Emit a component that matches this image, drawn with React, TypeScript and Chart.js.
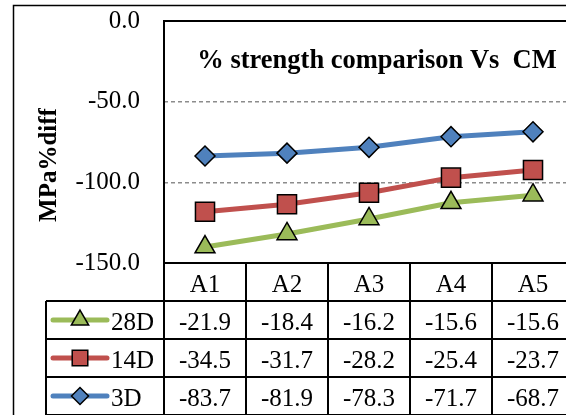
import React, { useEffect, useRef } from "react";
import { Chart, registerables } from "chart.js";

Chart.register(...registerables);

const categories = ["A1", "A2", "A3", "A4", "A5"];
const seriesNames = ["3D", "14D", "28D"];
const values3D = [-83.7, -81.9, -78.3, -71.7, -68.7];
const values14D = [-34.5, -31.7, -28.2, -25.4, -23.7];
const values28D = [-21.9, -18.4, -16.2, -15.6, -15.6];
const seriesColors = ["#4F81BD", "#C0504D", "#9BBB59"];
const seriesMarkers = ["rectRot", "rect", "triangle"];
const markerRadius = [10, 13.5, 11.5];
const yMin = -150;
const yMax = 0;
const yStep = 50;
const chartTitle = "% strength comparison Vs  CM";
const yAxisTitle = "MPa%diff";

const FONT = '"Liberation Serif", "Times New Roman", serif';

function drawMarker(ctx: CanvasRenderingContext2D, style: string, x: number, y: number, r: number, color: string) {
  ctx.save();
  ctx.fillStyle = color;
  ctx.strokeStyle = "#000";
  ctx.lineWidth = 1.5;
  ctx.beginPath();
  if (style === "rect") {
    const s = Math.SQRT1_2 * r;
    ctx.rect(x - s, y - s, 2 * s, 2 * s);
  } else if (style === "rectRot") {
    ctx.moveTo(x - r, y);
    ctx.lineTo(x, y - r);
    ctx.lineTo(x + r, y);
    ctx.lineTo(x, y + r);
    ctx.closePath();
  } else {
    let rad = 0;
    ctx.moveTo(x + Math.sin(rad) * r, y - Math.cos(rad) * r);
    rad += (2 * Math.PI) / 3;
    ctx.lineTo(x + Math.sin(rad) * r, y - Math.cos(rad) * r);
    rad += (2 * Math.PI) / 3;
    ctx.lineTo(x + Math.sin(rad) * r, y - Math.cos(rad) * r);
    ctx.closePath();
  }
  ctx.fill();
  ctx.stroke();
  ctx.restore();
}

const decorPlugin = {
  id: "decor",
  beforeDraw(chart: any) {
    const ctx = chart.ctx as CanvasRenderingContext2D;
    ctx.save();
    ctx.fillStyle = "#fff";
    ctx.fillRect(0, 0, chart.width, chart.height);
    // outer chart border
    ctx.strokeStyle = "#000";
    ctx.lineWidth = 1.5;
    ctx.strokeRect(13.5, 5.5, chart.width, chart.height);
    ctx.restore();
  },
  afterDraw(chart: any) {
    const ctx = chart.ctx as CanvasRenderingContext2D;
    const a = chart.chartArea;
    const xs = chart.scales.x;
    const n = categories.length;
    const colW = (a.right - a.left) / n;
    const rowH = 38;
    const legendLeft = 46;
    ctx.save();
    // plot border
    ctx.strokeStyle = "#000";
    ctx.lineWidth = 2;
    ctx.strokeRect(a.left, a.top, a.right - a.left, a.bottom - a.top);

    // table lines
    const tableBottom = a.bottom + rowH * (seriesNames.length + 1);
    ctx.beginPath();
    for (let i = 0; i <= n; i++) {
      const x = a.left + i * colW;
      ctx.moveTo(x, a.bottom);
      ctx.lineTo(x, tableBottom);
    }
    for (let k = 1; k <= seriesNames.length + 1; k++) {
      const y = a.bottom + rowH * k;
      ctx.moveTo(legendLeft, y);
      ctx.lineTo(a.right, y);
    }
    ctx.moveTo(legendLeft, a.bottom + rowH);
    ctx.lineTo(legendLeft, tableBottom);
    ctx.stroke();

    // header text
    ctx.fillStyle = "#000";
    ctx.font = `25px ${FONT}`;
    ctx.textAlign = "center";
    ctx.textBaseline = "alphabetic";
    for (let i = 0; i < n; i++) {
      ctx.fillText(categories[i], xs.getPixelForValue(i), a.bottom + 29);
    }
    // rows
    const rows = chart.data.datasets.slice().reverse();
    const idxs = [2, 1, 0];
    rows.forEach((ds: any, r: number) => {
      const si = idxs[r];
      const top = a.bottom + rowH * (r + 1);
      const yb = top + 28.5;
      const cy = top + rowH / 2;
      // legend key
      ctx.save();
      ctx.strokeStyle = seriesColors[si];
      ctx.lineWidth = 5;
      ctx.lineCap = "round";
      ctx.beginPath();
      ctx.moveTo(53, cy);
      ctx.lineTo(107, cy);
      ctx.stroke();
      ctx.restore();
      drawMarker(ctx, seriesMarkers[si], 80, cy, si === 1 ? 11 : si === 2 ? 10 : 8.5, seriesColors[si]);
      ctx.textAlign = "left";
      ctx.fillText(ds.label, 111, yb);
      ctx.textAlign = "center";
      for (let i = 0; i < n; i++) {
        ctx.fillText((ds.data[i] as number).toFixed(1), xs.getPixelForValue(i), yb);
      }
    });

    // chart title
    ctx.font = `bold 26.5px ${FONT}`;
    ctx.textAlign = "center";
    ctx.fillText(chartTitle, 377, 67.5);

    // y axis title
    ctx.save();
    ctx.translate(56, 165);
    ctx.rotate(-Math.PI / 2);
    ctx.font = `bold 25px ${FONT}`;
    ctx.textAlign = "center";
    ctx.textBaseline = "alphabetic";
    ctx.fillText(yAxisTitle, 0, 0);
    ctx.restore();
    ctx.restore();
  },
};

export default function App() {
  const ref = useRef<HTMLCanvasElement | null>(null);
  useEffect(() => {
    if (!ref.current) return;
    const seriesData = [values3D, values14D, values28D];
    const chart = new Chart(ref.current, {
      type: "line",
      data: {
        labels: categories,
        datasets: seriesNames.map((name, i) => ({
          label: name,
          data: seriesData[i],
          borderColor: seriesColors[i],
          backgroundColor: seriesColors[i],
          borderWidth: 5,
          pointStyle: seriesMarkers[i] as any,
          pointRadius: markerRadius[i],
          pointHoverRadius: markerRadius[i],
          pointBorderColor: "#000",
          pointBorderWidth: 1.5,
          pointBackgroundColor: seriesColors[i],
          tension: 0,
          fill: false,
          borderCapStyle: "round" as const,
          borderJoinStyle: "round" as const,
        })),
      },
      options: {
        responsive: false,
        animation: false,
        devicePixelRatio: 1,
        layout: { padding: { top: 21, right: 46, bottom: 207, left: 0 } },
        plugins: {
          legend: { display: false },
          title: { display: false },
          tooltip: { enabled: false },
        },
        scales: {
          x: {
            type: "category",
            display: false,
            offset: true,
          },
          y: {
            stacked: true,
            min: yMin,
            max: yMax,
            ticks: {
              stepSize: yStep,
              color: "#000",
              font: { family: FONT, size: 25 },
              padding: 24,
              callback: (v: any) => Number(v).toFixed(1),
            },
            grid: {
              drawTicks: false,
              lineWidth: 1.5,
              color: (c: any) =>
                c.tick && c.tick.value !== yMin && c.tick.value !== yMax ? "#8C8C8C" : "rgba(0,0,0,0)",
            },
            border: { display: false, dash: [4, 3] },
            afterFit: (s: any) => {
              s.width = 164;
              s.paddingTop = 0;
              s.paddingBottom = 0;
            },
          },
        },
      },
      plugins: [decorPlugin],
    });
    return () => chart.destroy();
  }, []);
  return (
    <div style={{ position: "absolute", left: 0, top: 0, width: 566, height: 415, overflow: "hidden", background: "#fff" }}>
      <canvas ref={ref} width={620} height={470} style={{ display: "block" }} />
    </div>
  );
}
